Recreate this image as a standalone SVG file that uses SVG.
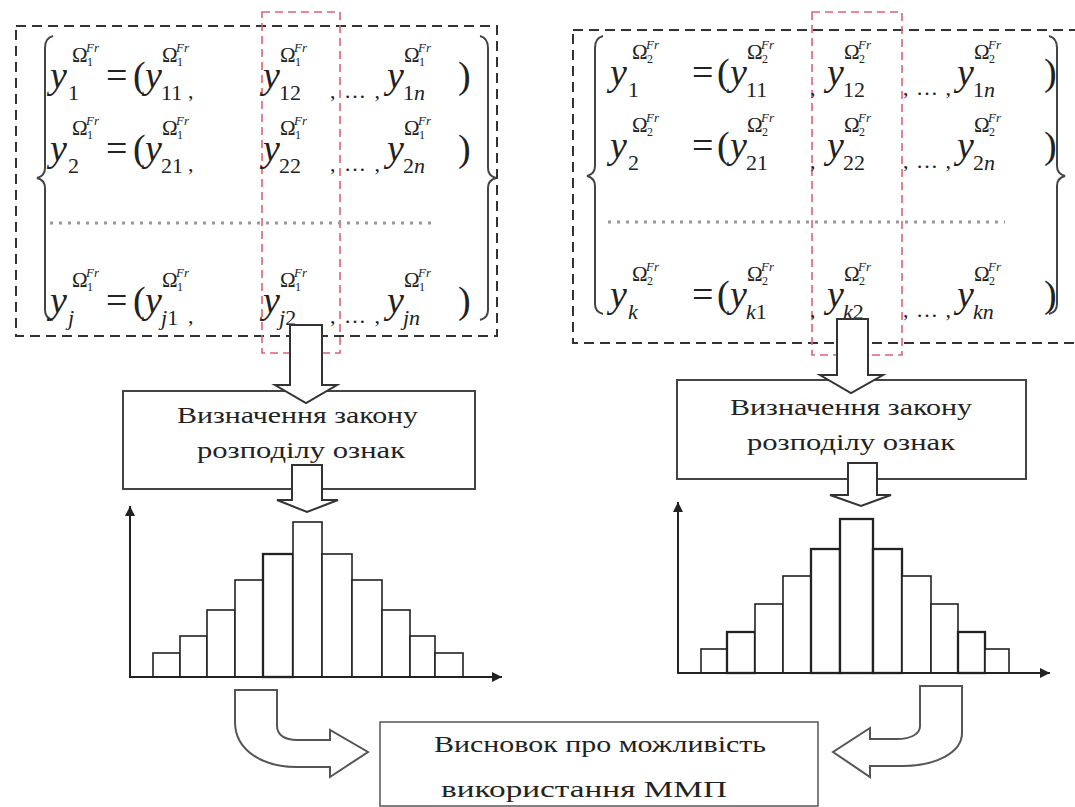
<svg xmlns="http://www.w3.org/2000/svg" width="1075" height="807" viewBox="0 0 1075 807" font-family="'Liberation Serif', 'DejaVu Serif', serif">
<defs>
<style>
text{font-family:'Liberation Serif','DejaVu Serif',serif;fill:#222}
.v{font-size:38px;font-style:italic}
.p{font-size:38px}
.s{font-size:22px}
.it{font-style:italic}
.o{font-size:21px}
.t{font-size:12px}
.fr{font-size:13px;font-style:italic}
.lbl{font-size:24px}
.dash{fill:none;stroke:#333;stroke-width:2;stroke-dasharray:10 6}
.red{fill:none;stroke:#e0607a;stroke-width:1.6;stroke-dasharray:8 5}
.brace{fill:none;stroke:#444;stroke-width:2}
.dots{stroke:#999;stroke-width:3;stroke-dasharray:3 6}
.box{fill:#fff;stroke:#444;stroke-width:2}
.bar{fill:#fff;stroke:#222;stroke-width:1.6}
.bk{stroke-width:2.3}
.axis{stroke:#222;stroke-width:2}
.arrow{fill:#fff;stroke:#333;stroke-width:2}
.barrow{fill:#fff;stroke:#555;stroke-width:2}
</style>
<marker id="ah" viewBox="0 0 10 10" refX="10" refY="5" markerWidth="12" markerHeight="10" orient="auto" markerUnits="userSpaceOnUse"><path d="M0,0 L10,5 L0,10 Z" fill="#222"/></marker>
<g id="s1"><text class="o">Ω</text><text class="t" x="15" y="4">1</text><text class="fr" x="14" y="-10">Fr</text></g>
<g id="s2"><text class="o">Ω</text><text class="t" x="15" y="4">2</text><text class="fr" x="14" y="-10">Fr</text></g>
</defs>
<rect width="1075" height="807" fill="#fff"/>

<g id="left-matrix">
<rect class="dash" x="16" y="26" width="481" height="310"/>
<rect class="red" x="262" y="12" width="78" height="341"/>
<path class="brace" d="M53,36 Q45,38 45,48 V168 Q45,176 37,178 Q45,180 45,188 V310 Q45,318 53,320"/>
<path class="brace" d="M480,36 Q488,38 488,48 V168 Q488,176 496,178 Q488,180 488,188 V310 Q488,318 480,320"/>
<line class="dots" x1="50" y1="223" x2="433" y2="223"/>
<!-- row 1 -->
<g transform="translate(50,88)"><text class="v">y</text><text class="s" x="18" y="12">1</text><use href="#s1" x="22" y="-26"/></g>
<text class="p" x="106" y="88">=</text><text class="p" x="133" y="88">(</text>
<g transform="translate(145,88)"><text class="v">y</text><text class="s" x="16" y="12">11</text><use href="#s1" x="17" y="-26"/></g>
<text class="s" x="188" y="98">,</text>
<g transform="translate(263,88)"><text class="v">y</text><text class="s" x="16" y="12">12</text><use href="#s1" x="17" y="-26"/></g>
<text class="s" x="330" y="98" textLength="50">,…,</text>
<g transform="translate(387,88)"><text class="v">y</text><text class="s" x="16" y="12">1<tspan class="it">n</tspan></text><use href="#s1" x="17" y="-26"/></g>
<text class="p" x="458" y="88">)</text>
<!-- row 2 -->
<g transform="translate(50,161)"><text class="v">y</text><text class="s" x="18" y="12">2</text><use href="#s1" x="22" y="-26"/></g>
<text class="p" x="106" y="161">=</text><text class="p" x="133" y="161">(</text>
<g transform="translate(145,161)"><text class="v">y</text><text class="s" x="16" y="12">21</text><use href="#s1" x="17" y="-26"/></g>
<text class="s" x="188" y="171">,</text>
<g transform="translate(263,161)"><text class="v">y</text><text class="s" x="16" y="12">22</text><use href="#s1" x="17" y="-26"/></g>
<text class="s" x="330" y="171" textLength="50">,…,</text>
<g transform="translate(387,161)"><text class="v">y</text><text class="s" x="16" y="12">2<tspan class="it">n</tspan></text><use href="#s1" x="17" y="-26"/></g>
<text class="p" x="458" y="161">)</text>
<!-- row 3 -->
<g transform="translate(50,313)"><text class="v">y</text><text class="s it" x="18" y="12">j</text><use href="#s1" x="22" y="-26"/></g>
<text class="p" x="106" y="313">=</text><text class="p" x="133" y="313">(</text>
<g transform="translate(145,313)"><text class="v">y</text><text class="s" x="16" y="12"><tspan class="it">j</tspan>1</text><use href="#s1" x="17" y="-26"/></g>
<text class="s" x="188" y="323">,</text>
<g transform="translate(263,313)"><text class="v">y</text><text class="s" x="16" y="12"><tspan class="it">j</tspan>2</text><use href="#s1" x="17" y="-26"/></g>
<text class="s" x="330" y="323" textLength="50">,…,</text>
<g transform="translate(387,313)"><text class="v">y</text><text class="s it" x="16" y="12">jn</text><use href="#s1" x="17" y="-26"/></g>
<text class="p" x="458" y="313">)</text>
</g>

<g id="right-matrix">
<rect class="dash" x="573" y="30" width="510" height="313"/>
<rect class="red" x="812" y="12" width="90" height="343"/>
<path class="brace" d="M603,36 Q595,38 595,48 V166 Q595,174 587,176 Q595,178 595,186 V304 Q595,312 603,314"/>
<path class="brace" d="M1049,36 Q1057,38 1057,48 V166 Q1057,174 1065,176 Q1057,178 1057,186 V304 Q1057,312 1049,314"/>
<line class="dots" x1="608" y1="222" x2="1005" y2="222"/>
<!-- row 1 -->
<g transform="translate(610,85)"><text class="v">y</text><text class="s" x="18" y="12">1</text><use href="#s2" x="22" y="-26"/></g>
<text class="p" x="692" y="85">=</text><text class="p" x="717" y="85">(</text>
<g transform="translate(730,85)"><text class="v">y</text><text class="s" x="16" y="12">11</text><use href="#s2" x="17" y="-26"/></g>
<text class="s" x="810" y="95">,</text>
<g transform="translate(827,85)"><text class="v">y</text><text class="s" x="16" y="12">12</text><use href="#s2" x="17" y="-26"/></g>
<text class="s" x="903" y="95" textLength="48">,…,</text>
<g transform="translate(957,85)"><text class="v">y</text><text class="s" x="16" y="12">1<tspan class="it">n</tspan></text><use href="#s2" x="17" y="-26"/></g>
<text class="p" x="1044" y="85">)</text>
<!-- row 2 -->
<g transform="translate(610,158)"><text class="v">y</text><text class="s" x="18" y="12">2</text><use href="#s2" x="22" y="-26"/></g>
<text class="p" x="692" y="158">=</text><text class="p" x="717" y="158">(</text>
<g transform="translate(730,158)"><text class="v">y</text><text class="s" x="16" y="12">21</text><use href="#s2" x="17" y="-26"/></g>
<text class="s" x="810" y="168">,</text>
<g transform="translate(827,158)"><text class="v">y</text><text class="s" x="16" y="12">22</text><use href="#s2" x="17" y="-26"/></g>
<text class="s" x="903" y="168" textLength="48">,…,</text>
<g transform="translate(957,158)"><text class="v">y</text><text class="s" x="16" y="12">2<tspan class="it">n</tspan></text><use href="#s2" x="17" y="-26"/></g>
<text class="p" x="1044" y="158">)</text>
<!-- row 3 -->
<g transform="translate(610,307)"><text class="v">y</text><text class="s it" x="18" y="12">k</text><use href="#s2" x="22" y="-26"/></g>
<text class="p" x="692" y="307">=</text><text class="p" x="717" y="307">(</text>
<g transform="translate(730,307)"><text class="v">y</text><text class="s" x="16" y="12"><tspan class="it">k</tspan>1</text><use href="#s2" x="17" y="-26"/></g>
<text class="s" x="810" y="317">,</text>
<g transform="translate(827,307)"><text class="v">y</text><text class="s" x="16" y="12"><tspan class="it">k</tspan>2</text><use href="#s2" x="17" y="-26"/></g>
<text class="s" x="903" y="317" textLength="48">,…,</text>
<g transform="translate(957,307)"><text class="v">y</text><text class="s it" x="16" y="12">kn</text><use href="#s2" x="17" y="-26"/></g>
<text class="p" x="1044" y="307">)</text>
</g>

<g id="left-box">
<rect class="box" x="123" y="391" width="352" height="98"/>
<text class="lbl" x="177" y="423" textLength="241" lengthAdjust="spacingAndGlyphs">Визначення закону</text>
<text class="lbl" x="197" y="458" textLength="208" lengthAdjust="spacingAndGlyphs">розподілу ознак</text>
</g>

<g id="right-box">
<rect class="box" x="677" y="380" width="349" height="99"/>
<text class="lbl" x="730" y="415" textLength="242" lengthAdjust="spacingAndGlyphs">Визначення закону</text>
<text class="lbl" x="747" y="450" textLength="208" lengthAdjust="spacingAndGlyphs">розподілу ознак</text>
</g>

<g id="left-hist">
<rect class="bar" x="153" y="653" width="27" height="24"/>
<rect class="bar" x="180" y="636" width="27" height="41"/>
<rect class="bar" x="207" y="610" width="28" height="67"/>
<rect class="bar" x="235" y="580" width="28" height="97"/>
<rect class="bar bk" x="263" y="554" width="30" height="123"/>
<rect class="bar" x="293" y="522" width="29" height="155"/>
<rect class="bar" x="322" y="554" width="30" height="123"/>
<rect class="bar" x="352" y="580" width="30" height="97"/>
<rect class="bar" x="382" y="610" width="28" height="67"/>
<rect class="bar" x="410" y="636" width="25" height="41"/>
<rect class="bar" x="435" y="653" width="28" height="24"/>
<line class="axis" x1="130" y1="677" x2="130" y2="506" marker-end="url(#ah)"/>
<line class="axis" x1="129" y1="677" x2="502" y2="677" marker-end="url(#ah)"/>
</g>

<g id="right-hist">
<rect class="bar" x="701" y="649" width="26" height="24"/>
<rect class="bar bk" x="727" y="632" width="28" height="41"/>
<rect class="bar" x="755" y="604" width="28" height="69"/>
<rect class="bar" x="783" y="576" width="28" height="97"/>
<rect class="bar bk" x="811" y="549" width="29" height="124"/>
<rect class="bar bk" x="840" y="519" width="33" height="154"/>
<rect class="bar bk" x="873" y="549" width="29" height="124"/>
<rect class="bar" x="902" y="576" width="29" height="97"/>
<rect class="bar" x="931" y="604" width="27" height="69"/>
<rect class="bar bk" x="958" y="632" width="27" height="41"/>
<rect class="bar" x="985" y="649" width="24" height="24"/>
<line class="axis" x1="678" y1="673" x2="678" y2="502" marker-end="url(#ah)"/>
<line class="axis" x1="677" y1="673" x2="1050" y2="673" marker-end="url(#ah)"/>
</g>

<g id="conclusion">
<rect x="380" y="722" width="438" height="84" fill="#fff" stroke="#555" stroke-width="1.5"/>
<text class="lbl" x="434" y="752" textLength="332" lengthAdjust="spacingAndGlyphs">Висновок про можливість</text>
<text class="lbl" x="441" y="797" textLength="286" lengthAdjust="spacingAndGlyphs">використання ММП</text>
</g>

<g id="connectors">
<path class="arrow" d="M290,325 H322 V385 H337 L306,403 L275,385 H290 Z"/>
<path class="arrow" d="M292,465 H322 V500 H338 L307,512 L277,500 H292 Z"/>
<path class="arrow" d="M837,319 H868 V375 H883 L851,393 L820,375 H837 Z"/>
<path class="arrow" d="M848,463 H877 V495 H891 L861,506 L830,495 H848 Z"/>
<path class="barrow" d="M235,690 H277 V726 C277,735 285,740 297,740 H330 V730 L368,752 L330,777 V767 H297 C262,767 235,750 235,722 Z"/>
<path class="barrow" d="M920,686 H962 V733 C962,752 937,766 902,766 H870 V777 L833,752 L870,728 V739 H897 C911,739 920,734 920,726 Z"/>
</g>
</svg>
